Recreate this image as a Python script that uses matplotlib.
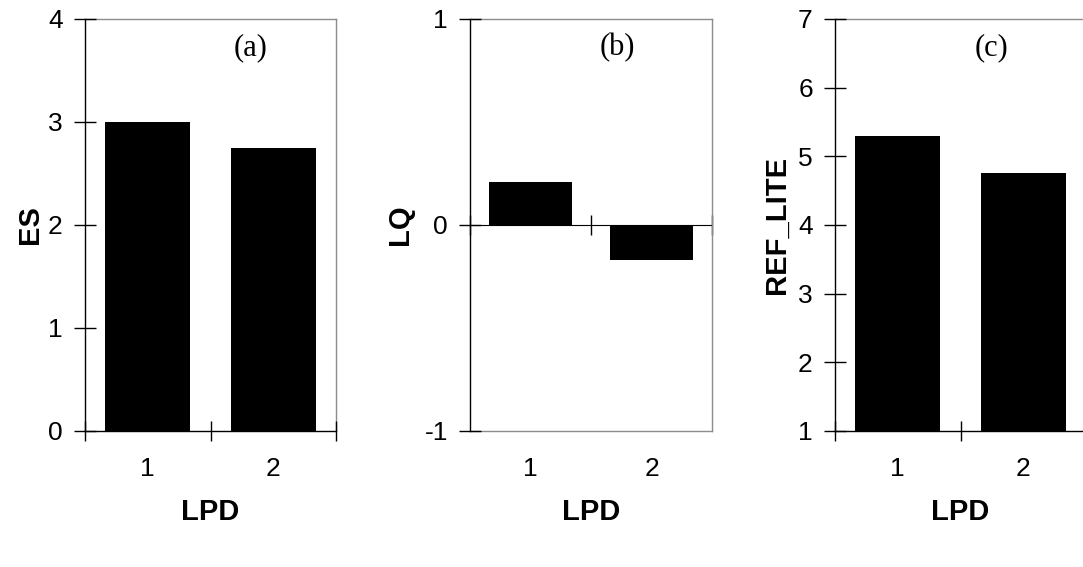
import matplotlib.pyplot as plt
from matplotlib.ticker import FixedLocator

plt.rcParams['font.family'] = ['Liberation Sans', 'DejaVu Sans']

# data
lpd = [1, 2]
es = [3.0, 2.75]
lq = [0.21, -0.17]
ref_lite = [5.29, 4.75]

panels = [
    # values, ylabel, letter, ylim, yticks, baseline, left, width, ylabel_x, letter_x
    (es, 'ES', '(a)', (0, 4), [0, 1, 2, 3, 4], 0, 0.0785, 0.2318, -0.219, 0.66),
    (lq, 'LQ', '(b)', (-1, 1), [-1, 0, 1], 0, 0.434, 0.2235, -0.289, 0.61),
    (ref_lite, 'REF_LITE', '(c)', (1, 7), [1, 2, 3, 4, 5, 6, 7], 1, 0.771, 0.2318, -0.231, 0.625),
]

FRAME = '#8c8c8c'

fig = plt.figure(figsize=(10.83, 5.67), dpi=100)

for vals, ylab, letter, ylim, yticks, base, left, width, ylx, ltx in panels:
    ax = fig.add_axes([left, 0.2399, width, 0.7266])
    heights = [v - base for v in vals]
    ax.bar(lpd, heights, bottom=base, width=0.68, color='black', zorder=2)
    ax.set_xlim(0.5, 2.5)
    ax.set_ylim(*ylim)
    ax.set_yticks(yticks)
    ax.set_yticklabels([str(t) for t in yticks])
    ax.tick_params(axis='y', direction='inout', length=16, width=1,
                   labelsize=19, pad=8, colors='black')

    ax.set_xticks(lpd)
    ax.set_xticklabels([str(x) for x in lpd])
    ax.tick_params(axis='x', which='major', length=0, labelsize=19, pad=19)

    for side in ['top', 'right']:
        ax.spines[side].set_color(FRAME)
        ax.spines[side].set_linewidth(1)
        ax.spines[side].set_zorder(0.5)
    ax.spines['left'].set_color('black')
    ax.spines['left'].set_linewidth(1)

    bounds = [0.5, 1.5, 2.5]
    if ylim[0] == base:
        ax.spines['bottom'].set_color('black')
        ax.xaxis.set_minor_locator(FixedLocator(bounds))
        ax.tick_params(axis='x', which='minor', direction='inout',
                       length=14, width=1, color='black')
    else:
        ax.spines['bottom'].set_color(FRAME)
        ax.spines['bottom'].set_zorder(0.5)
        frac = (base - ylim[0]) / (ylim[1] - ylim[0])
        sec = ax.secondary_xaxis(frac)
        sec.spines['bottom'].set_color('black')
        sec.spines['bottom'].set_linewidth(1)
        sec.set_xticks(bounds)
        sec.set_xticklabels([])
        sec.tick_params(axis='x', direction='inout', length=14, width=1,
                        color='black')
    ax.spines['bottom'].set_linewidth(1)

    ax.set_ylabel(ylab, fontsize=21, fontweight='bold', va='center')
    ax.yaxis.set_label_coords(ylx, 0.5)
    ax.set_xlabel('LPD', fontsize=21, fontweight='bold', va='center')
    ax.xaxis.set_label_coords(0.5, -0.197)

    ax.text(ltx, 0.93, letter, transform=ax.transAxes, ha='center', va='center',
            fontsize=22, family=['Liberation Serif', 'DejaVu Serif'])

fig.savefig('out.png', dpi=100)
